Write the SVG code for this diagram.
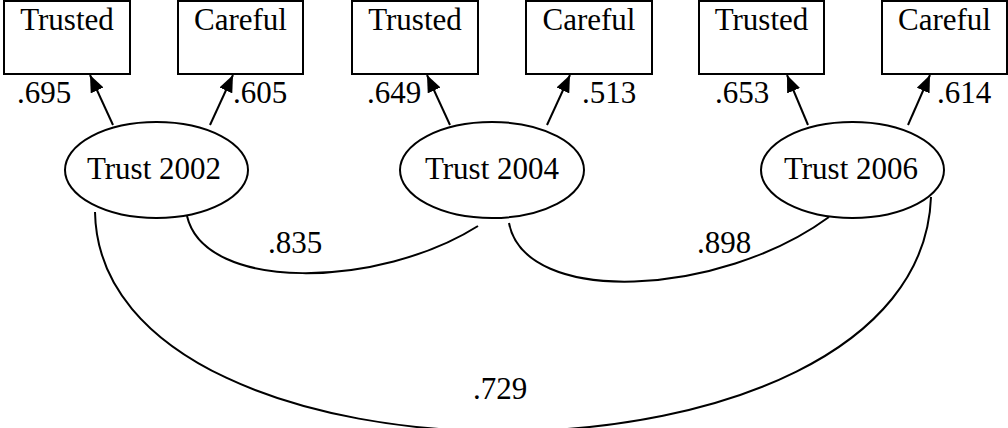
<svg xmlns="http://www.w3.org/2000/svg" width="1008" height="428" viewBox="0 0 1008 428">
<style>
.box{fill:#fff;stroke:#000;stroke-width:2}
.ell{fill:#fff;stroke:#000;stroke-width:2}
.t{font-family:"Liberation Serif","Times New Roman",serif;font-size:31px;fill:#000}
.c{text-anchor:middle}
.ln{fill:none;stroke:#000;stroke-width:2}
</style>
<defs>
<marker id="ah" markerUnits="userSpaceOnUse" markerWidth="18" markerHeight="14" refX="17" refY="7" orient="auto">
<path d="M0,0 L17,7 L0,14 z" fill="#000"/>
</marker>
</defs>
<rect width="1008" height="428" fill="#fff"/>
<g id="connectors">
<line class="ln" x1="113" y1="125" x2="90" y2="75" marker-end="url(#ah)"/>
<line class="ln" x1="210" y1="125" x2="233" y2="75" marker-end="url(#ah)"/>
<line class="ln" x1="450" y1="125" x2="427" y2="75" marker-end="url(#ah)"/>
<line class="ln" x1="547" y1="125" x2="570" y2="75" marker-end="url(#ah)"/>
<line class="ln" x1="808" y1="125" x2="787" y2="75" marker-end="url(#ah)"/>
<line class="ln" x1="908" y1="125" x2="930" y2="75" marker-end="url(#ah)"/>
<path class="ln" d="M187,216 C205,293 380,288 478,226"/>
<path class="ln" d="M509,223 C525,307 720,297 829,217"/>
<path class="ln" d="M95,212 C100,507 920,507 931,197"/>
<text class="t" x="17" y="103">.695</text>
<text class="t" x="233" y="103">.605</text>
<text class="t" x="367" y="103">.649</text>
<text class="t" x="582" y="103">.513</text>
<text class="t" x="715" y="103">.653</text>
<text class="t" x="937" y="103">.614</text>
<text class="t" x="268" y="253">.835</text>
<text class="t" x="697" y="253">.898</text>
<text class="t" x="473" y="399">.729</text>
</g>
<g id="n1"><rect class="box" x="4" y="1" width="126" height="73"/><text class="t c" x="67" y="30">Trusted</text></g>
<g id="n2"><rect class="box" x="178" y="1" width="125" height="73"/><text class="t c" x="240.5" y="30">Careful</text></g>
<g id="n3"><rect class="box" x="352" y="1" width="126" height="73"/><text class="t c" x="415" y="30">Trusted</text></g>
<g id="n4"><rect class="box" x="526" y="1" width="126" height="73"/><text class="t c" x="589" y="30">Careful</text></g>
<g id="n5"><rect class="box" x="699" y="1" width="125" height="73"/><text class="t c" x="761.5" y="30">Trusted</text></g>
<g id="n6"><rect class="box" x="882" y="1" width="125" height="73"/><text class="t c" x="944.5" y="30">Careful</text></g>
<g id="e1"><ellipse class="ell" cx="156.5" cy="170" rx="91.5" ry="48"/><text class="t c" x="154" y="179">Trust 2002</text></g>
<g id="e2"><ellipse class="ell" cx="492" cy="170" rx="92" ry="48"/><text class="t c" x="492" y="179">Trust 2004</text></g>
<g id="e3"><ellipse class="ell" cx="852.5" cy="170" rx="91.5" ry="48"/><text class="t c" x="851" y="179">Trust 2006</text></g>
</svg>
